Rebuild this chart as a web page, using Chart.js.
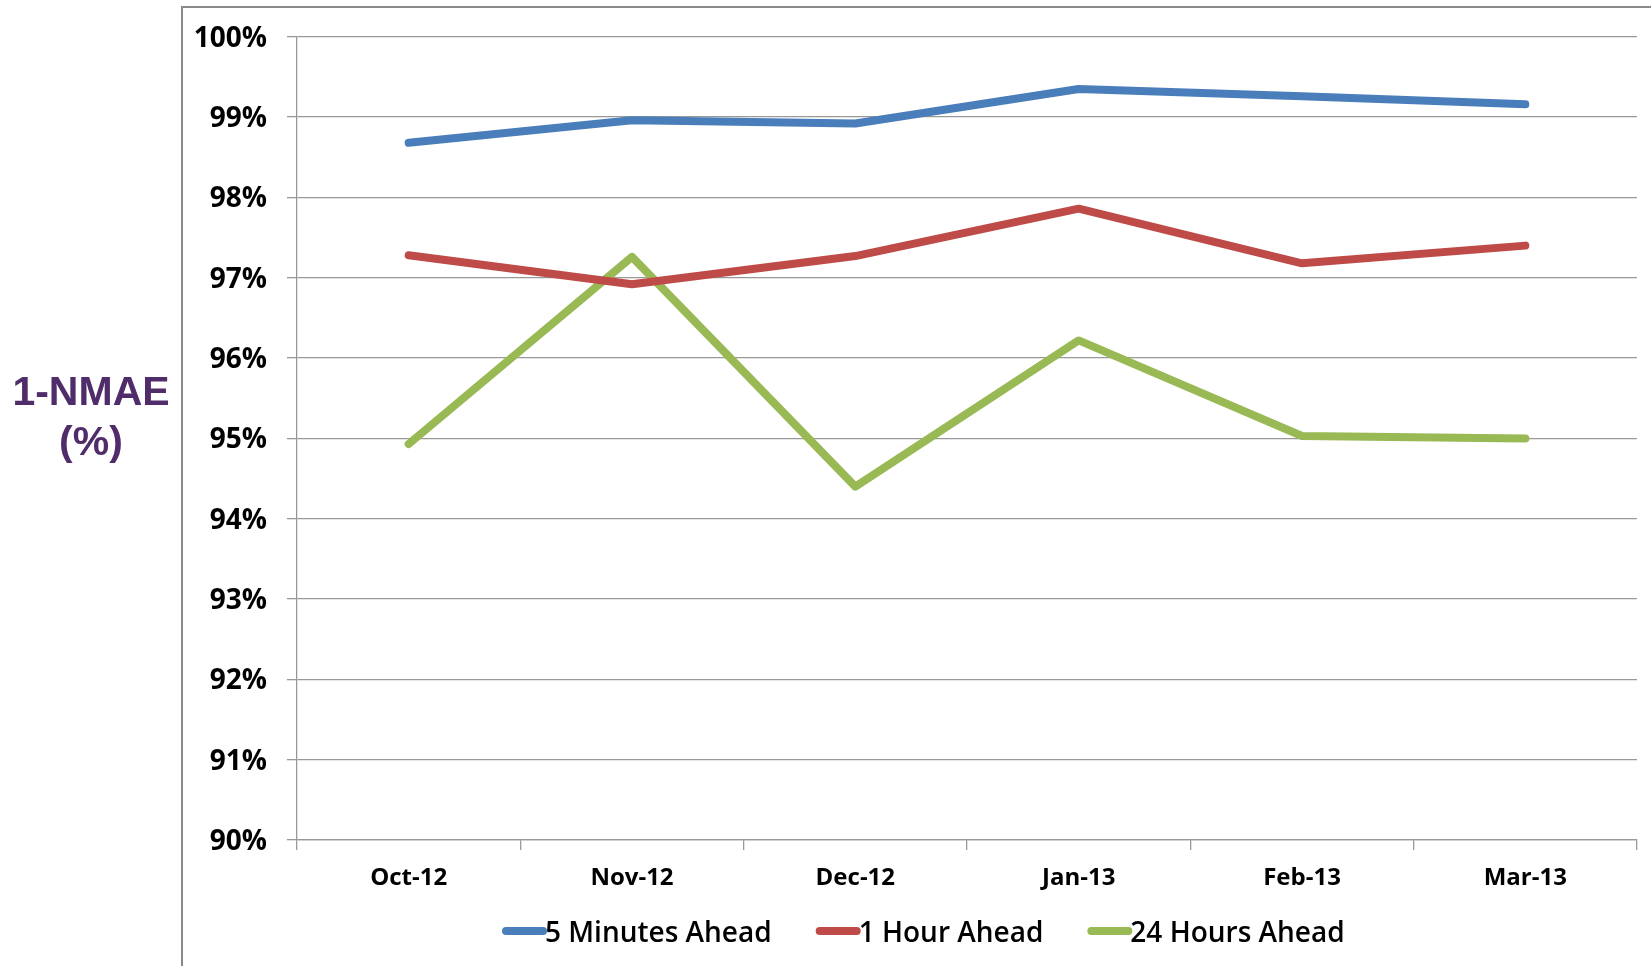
<!DOCTYPE html>
<html>
<head>
<meta charset="utf-8">
<title>1-NMAE by forecast horizon</title>
<script src="https://cdn.jsdelivr.net/npm/chart.js@4.4.0/dist/chart.umd.min.js"></script>
<style>
  html, body { margin: 0; padding: 0; background: #fff; }
  #wrap { position: relative; width: 1651px; height: 966px; }
</style>
</head>
<body>
<div id="wrap"><canvas id="chartLine" width="1651" height="966"></canvas></div>
<script>
// Monthly forecast accuracy (1-NMAE, %) per forecast horizon
const months = ['Oct-12', 'Nov-12', 'Dec-12', 'Jan-13', 'Feb-13', 'Mar-13'];
const fiveMinutesAhead = [98.68, 98.96, 98.92, 99.35, 99.26, 99.16];
const oneHourAhead = [97.28, 96.92, 97.27, 97.86, 97.18, 97.40];
const twentyFourHoursAhead = [94.93, 97.26, 94.40, 96.22, 95.03, 95.00];
const seriesNames = ['5 Minutes Ahead', '1 Hour Ahead', '24 Hours Ahead'];
const yTickValues = [90, 91, 92, 93, 94, 95, 96, 97, 98, 99, 100];
const yTitleLines = ['1-NMAE', '(%)'];

const seriesColors = ['#4A7EBB', '#BE4B48', '#98B954'];
const gridColor = '#999999';

function makeDataset(label, data, color) {
    return {
        label: label,
        data: data,
        borderColor: color,
        backgroundColor: color,
        borderWidth: 8,
        borderCapStyle: 'round',
        borderJoinStyle: 'round',
        tension: 0,
        pointRadius: 0,
        fill: false
    };
}

// gray frame on the left and top of the whole chart
const framePlugin = {
    id: 'frame',
    beforeDraw(chart) {
        const ctx = chart.ctx;
        ctx.save();
        ctx.strokeStyle = '#8a8a8a';
        ctx.lineWidth = 2;
        ctx.beginPath();
        ctx.moveTo(182, chart.height);
        ctx.lineTo(182, 7);
        ctx.lineTo(chart.width, 7);
        ctx.stroke();
        ctx.restore();
    }
};

// horizontal two-line axis title left of the frame
const yTitlePlugin = {
    id: 'yTitle',
    afterDraw(chart) {
        const ctx = chart.ctx;
        ctx.save();
        ctx.fillStyle = '#502D6A';
        ctx.font = 'bold 41px "Liberation Sans", Arial, sans-serif';
        ctx.textAlign = 'center';
        ctx.textBaseline = 'alphabetic';
        ctx.fillText(yTitleLines[0], 91, 405);
        ctx.fillText(yTitleLines[1], 91, 455);
        ctx.restore();
    }
};

// legend with the line sample butting straight onto the label
const lineLegendPlugin = {
    id: 'lineLegend',
    afterDraw(chart) {
        const ctx = chart.ctx;
        const sampleW = 43;
        const gap = 44;
        const y = 931;
        ctx.save();
        ctx.font = '600 28px "Open Sans", sans-serif';
        let x = 502;
        chart.data.datasets.forEach((ds) => {
            ctx.strokeStyle = ds.borderColor;
            ctx.lineWidth = 8;
            ctx.lineCap = 'round';
            ctx.beginPath();
            ctx.moveTo(x + 4, y);
            ctx.lineTo(x + sampleW - 2, y);
            ctx.stroke();
            x += sampleW;
            ctx.fillStyle = '#000';
            ctx.textAlign = 'left';
            ctx.textBaseline = 'alphabetic';
            ctx.fillText(ds.label, x, 942);
            x += ctx.measureText(ds.label).width + gap;
        });
        ctx.restore();
    }
};

new Chart(document.getElementById('chartLine'), {
    type: 'line',
    data: {
        labels: months,
        datasets: [
            makeDataset(seriesNames[0], fiveMinutesAhead, seriesColors[0]),
            makeDataset(seriesNames[1], oneHourAhead, seriesColors[1]),
            makeDataset(seriesNames[2], twentyFourHoursAhead, seriesColors[2])
        ]
    },
    options: {
        responsive: false,
        animation: false,
        layout: { padding: { top: 36, right: 14, bottom: 0, left: 0 } },
        plugins: {
            legend: { display: false },
            tooltip: { enabled: false }
        },
        scales: {
            x: {
                offset: true,
                afterFit(scale) { scale.height = 126; },
                border: { display: true, color: gridColor, width: 1.3 },
                grid: {
                    offset: true,
                    drawOnChartArea: false,
                    drawTicks: true,
                    tickLength: 10,
                    color: gridColor,
                    lineWidth: 1.3
                },
                ticks: {
                    padding: 14,
                    color: '#000',
                    maxRotation: 0,
                    autoSkip: false,
                    font: { family: '"Open Sans", sans-serif', size: 24, weight: 'bold' }
                }
            },
            y: {
                min: 90,
                max: 100,
                afterFit(scale) { scale.width = 297; },
                afterBuildTicks(scale) {
                    scale.ticks = yTickValues.map(v => ({ value: v }));
                },
                border: { display: true, color: gridColor, width: 1.3 },
                grid: {
                    color: gridColor,
                    lineWidth: 1.3,
                    drawTicks: true,
                    tickLength: 10
                },
                ticks: {
                    padding: 20,
                    labelOffset: 2,
                    color: '#000',
                    font: { family: '"Open Sans", sans-serif', size: 28, weight: 'bold' },
                    callback: v => v + '%'
                }
            }
        }
    },
    plugins: [framePlugin, yTitlePlugin, lineLegendPlugin]
});
</script>
</body>
</html>
